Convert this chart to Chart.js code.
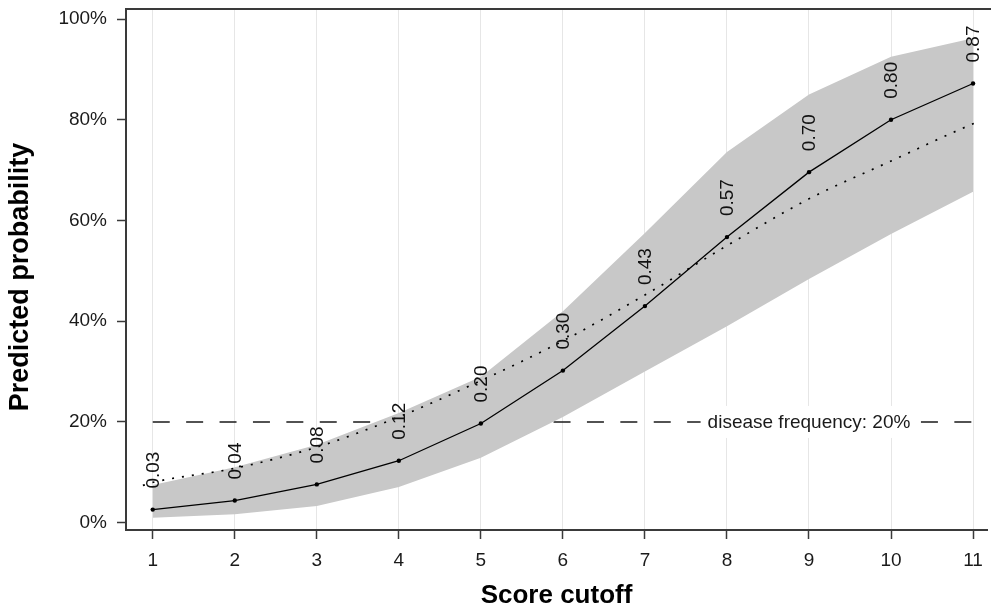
<!DOCTYPE html>
<html>
<head>
<meta charset="utf-8">
<script src="https://cdn.jsdelivr.net/npm/chart.js@4.4.1/dist/chart.umd.min.js"></script>
<style>
  html, body { margin: 0; padding: 0; background: #fff; }
  #wrap { width: 991px; height: 609px; position: relative; }
</style>
</head>
<body>
<div id="wrap"><canvas id="grafico"></canvas></div>
<script>
// valores
var cutoffs = [1, 2, 3, 4, 5, 6, 7, 8, 9, 10, 11];
var predicho = [0.026, 0.044, 0.076, 0.123, 0.197, 0.302, 0.430, 0.567, 0.696, 0.800, 0.872];
var bandaInf = [0.010, 0.017, 0.033, 0.071, 0.129, 0.210, 0.300, 0.390, 0.484, 0.573, 0.657];
var bandaSup = [0.075, 0.110, 0.155, 0.218, 0.290, 0.420, 0.575, 0.736, 0.850, 0.925, 0.962];
var curvaX = [0.88, 1, 2, 3, 4, 5, 6, 7, 8, 9, 10, 11, 11.08];
var curvaY = [0.074, 0.080, 0.108, 0.150, 0.210, 0.282, 0.361, 0.452, 0.550, 0.643, 0.718, 0.792, 0.797];
var frecuencia = 0.20;
var textoFrecuencia = 'disease frequency: 20%';
var ticksY = [0, 0.2, 0.4, 0.6, 0.8, 1];

function puntos(xs, ys) {
  return xs.map(function (x, i) { return { x: x, y: ys[i] }; });
}

var colorEje = '#3a3a3a';
Chart.defaults.font.family = '"Liberation Sans", Arial, sans-serif';
Chart.defaults.color = '#1a1a1a';

var etiquetasPlugin = {
  id: 'etiquetas',
  beforeDatasetsDraw: function (chart) {
    var ctx = chart.ctx, area = chart.chartArea;
    ctx.save();
    ctx.strokeStyle = colorEje;
    ctx.lineWidth = 2;
    ctx.beginPath();
    ctx.moveTo(area.left - 1, area.top);
    ctx.lineTo(chart.width, area.top);
    ctx.stroke();
    ctx.restore();
  },
  afterDatasetsDraw: function (chart) {
    var ctx = chart.ctx;
    var sx = chart.scales.x, sy = chart.scales.y;

    // caja de la frecuencia
    ctx.save();
    ctx.font = '19px "Liberation Sans", Arial, sans-serif';
    var cx = sx.getPixelForValue(9), cy = sy.getPixelForValue(frecuencia);
    var w = ctx.measureText(textoFrecuencia).width;
    ctx.fillStyle = '#fff';
    ctx.fillRect(cx - w / 2 - 7, cy - 16, w + 14, 32);
    ctx.fillStyle = '#1a1a1a';
    ctx.textAlign = 'center';
    ctx.textBaseline = 'middle';
    ctx.fillText(textoFrecuencia, cx, cy + 1);
    ctx.restore();

    // valores encima de cada punto
    var meta = chart.getDatasetMeta(0);
    ctx.save();
    ctx.font = '19px "Liberation Sans", Arial, sans-serif';
    ctx.fillStyle = '#111';
    ctx.textAlign = 'left';
    ctx.textBaseline = 'middle';
    meta.data.forEach(function (pt, i) {
      ctx.save();
      ctx.translate(pt.x + 1, pt.y - 21);
      ctx.rotate(-Math.PI / 2);
      ctx.fillText(predicho[i].toFixed(2), 0, 0);
      ctx.restore();
    });
    ctx.restore();
  }
};

new Chart(document.getElementById('grafico'), {
  type: 'line',
  plugins: [etiquetasPlugin],
  data: {
    datasets: [
      {
        label: 'Predicted',
        data: puntos(cutoffs, predicho),
        borderColor: '#000',
        borderWidth: 1.3,
        pointRadius: 2.2,
        pointBackgroundColor: '#000',
        pointBorderWidth: 0,
        fill: false,
        order: 0
      },
      {
        label: 'Curva',
        data: puntos(curvaX, curvaY),
        borderColor: '#000',
        borderWidth: 1.7,
        borderDash: [2, 8],
        pointRadius: 0,
        cubicInterpolationMode: 'monotone',
        fill: false,
        order: 1
      },
      {
        label: 'Superior',
        data: puntos(cutoffs, bandaSup),
        borderWidth: 0,
        pointRadius: 0,
        backgroundColor: '#c8c8c8',
        fill: { target: 3 },
        order: 2
      },
      {
        label: 'Inferior',
        data: puntos(cutoffs, bandaInf),
        borderWidth: 0,
        pointRadius: 0,
        fill: false,
        order: 3
      },
      {
        label: 'Frecuencia',
        data: puntos([1, 11], [frecuencia, frecuencia]),
        borderColor: '#1a1a1a',
        borderWidth: 1.5,
        borderDash: [17, 16.4],
        pointRadius: 0,
        fill: false,
        order: 4
      }
    ]
  },
  options: {
    responsive: true,
    maintainAspectRatio: false,
    animation: false,
    layout: { padding: { top: 9, right: 0, bottom: 0, left: 0 } },
    plugins: {
      legend: { display: false },
      tooltip: { enabled: false }
    },
    scales: {
      x: {
        type: 'linear',
        min: 0.674,
        max: 11.17,
        afterFit: function (scale) {
          scale.height = 79;
          scale.paddingLeft = 0;
          scale.paddingRight = 0;
        },
        afterBuildTicks: function (scale) {
          scale.ticks = cutoffs.map(function (v) { return { value: v }; });
        },
        grid: { color: '#e6e6e6', lineWidth: 1, tickColor: colorEje, tickLength: 9, tickWidth: 1.5 },
        border: { display: true, color: colorEje, width: 2 },
        ticks: { padding: 10, font: { size: 19 }, color: '#1a1a1a', maxRotation: 0 },
        title: {
          display: true,
          text: 'Score cutoff',
          font: { size: 26, weight: 'bold', lineHeight: 1 },
          color: '#000',
          padding: { top: 0, bottom: 0 }
        }
      },
      y: {
        min: -0.0145,
        max: 1.0199,
        afterFit: function (scale) {
          scale.width = 126;
          scale.paddingTop = 0;
          scale.paddingBottom = 0;
        },
        afterBuildTicks: function (scale) {
          scale.ticks = ticksY.map(function (v) { return { value: v }; });
        },
        grid: { drawOnChartArea: false, tickColor: colorEje, tickLength: 9, tickWidth: 1.5 },
        border: { display: true, color: colorEje, width: 2 },
        ticks: {
          padding: 10,
          font: { size: 19 },
          color: '#1a1a1a',
          callback: function (v) { return Math.round(v * 100) + '%'; }
        },
        title: {
          display: true,
          text: 'Predicted probability  ',
          font: { size: 27, weight: 'bold', lineHeight: 1 },
          color: '#000',
          padding: { top: 7, bottom: 0 }
        }
      }
    }
  }
});
</script>
</body>
</html>
